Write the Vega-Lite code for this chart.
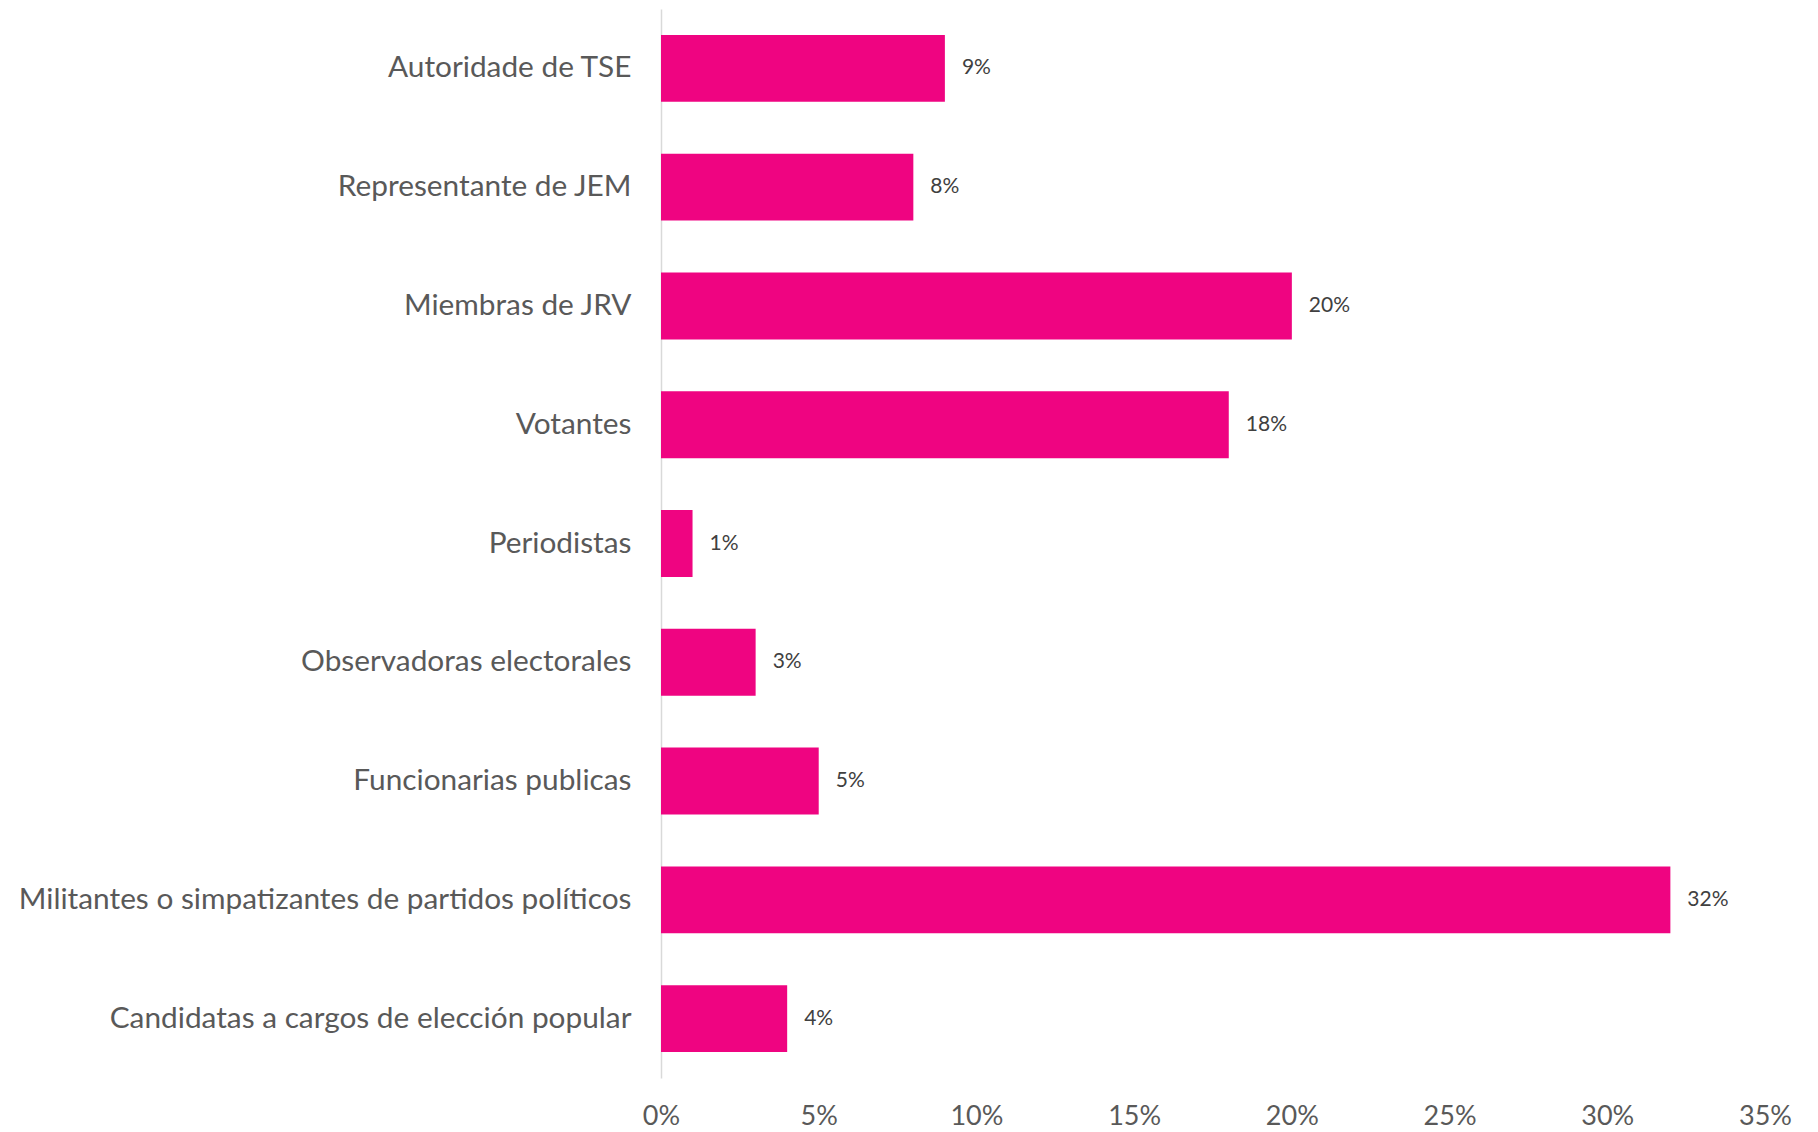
{
  "$schema": "https://vega.github.io/schema/vega-lite/v6.json",
  "autosize": "none",
  "width": 1104,
  "height": 1069,
  "padding": {"left": 661, "top": 9, "right": 53, "bottom": 54},
  "background": "white",
  "config": {"view": {"stroke": null}, "font": "Lato"},
  "data": {"values": [
    {"cat": "Autoridade de TSE", "v": 0.09},
    {"cat": "Representante de JEM", "v": 0.08},
    {"cat": "Miembras de JRV", "v": 0.20},
    {"cat": "Votantes", "v": 0.18},
    {"cat": "Periodistas", "v": 0.01},
    {"cat": "Observadoras electorales", "v": 0.03},
    {"cat": "Funcionarias publicas", "v": 0.05},
    {"cat": "Militantes o simpatizantes de partidos políticos", "v": 0.32},
    {"cat": "Candidatas a cargos de elección popular", "v": 0.04}
  ]},
  "encoding": {
    "y": {"field": "cat", "type": "nominal", "sort": null,
      "scale": {"paddingInner": 0.437, "paddingOuter": 0.2185},
      "axis": {"title": null, "ticks": false, "domain": true, "domainColor": "#D9D9D9", "domainWidth": 1.5,
        "labelFont": "Lato", "labelFontSize": 29.8, "labelColor": "#595959", "labelPadding": 30, "labelLimit": 800}},
    "x": {"field": "v", "type": "quantitative",
      "scale": {"domain": [0, 0.35], "nice": false},
      "axis": {"title": null, "format": ".0%", "values": [0, 0.05, 0.1, 0.15, 0.2, 0.25, 0.3, 0.35],
        "grid": false, "domain": false, "ticks": false, "labelFlush": false, "labelFont": "Lato", "labelFontSize": 27,
        "labelColor": "#595959", "labelPadding": 25}}
  },
  "layer": [
    {"mark": {"type": "bar", "color": "#EF0481"}},
    {"mark": {"type": "text", "align": "left", "baseline": "middle", "dx": 17, "font": "Lato", "fontSize": 21, "color": "#404040"},
      "encoding": {"text": {"field": "v", "type": "quantitative", "format": ".0%"}}}
  ]
}
